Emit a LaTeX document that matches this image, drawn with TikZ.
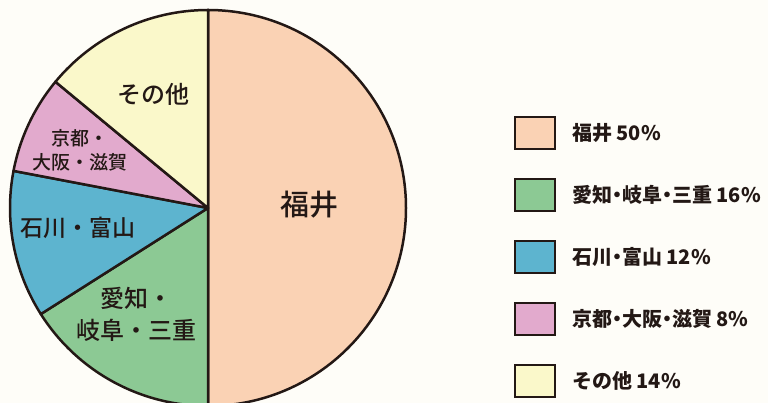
\documentclass[tikz,border=0pt]{standalone}
\usepackage{fontspec}
\newfontfamily\jpfont{Noto Sans CJK JP Medium}
\newfontfamily\jplegend[RawFeature=+halt]{Noto Sans CJK JP}
\definecolor{bgcream}{HTML}{FEFDF8}
\definecolor{inkdark}{HTML}{231815}
\definecolor{fukuicol}{HTML}{FAD2B4}
\definecolor{aichicol}{HTML}{8CC994}
\definecolor{ishikawacol}{HTML}{5DB4CF}
\definecolor{kyotocol}{HTML}{E2AACD}
\definecolor{othercol}{HTML}{FAF8CA}
\begin{document}
\begin{tikzpicture}[x=1pt,y=1pt,
		wedge/.style={draw=inkdark,line width=2.5pt,line join=round},
		pielabel/.style={text=inkdark,align=center,font=\jpfont},
		legbox/.style={draw=inkdark,line width=2.5pt,minimum width=40pt,minimum height=32pt,inner sep=0pt},
		legtext/.style={anchor=west,text=inkdark,inner sep=0pt,font=\jplegend\bfseries\fontsize{20}{24}\selectfont}]
		\fill[bgcream] (0,0) rectangle (768,403);
		\useasboundingbox (0,0) rectangle (768,403);
		\coordinate (O) at (208,195);
		% slices, clockwise from the top
		\filldraw[wedge,fill=fukuicol] (O) -- ++(90:198) arc[start angle=90,end angle=-90,radius=198] -- cycle;
		\filldraw[wedge,fill=aichicol] (O) -- ++(270:198) arc[start angle=270,end angle=212.4,radius=198] -- cycle;
		\filldraw[wedge,fill=ishikawacol] (O) -- ++(212.4:198) arc[start angle=212.4,end angle=169.2,radius=198] -- cycle;
		\filldraw[wedge,fill=kyotocol] (O) -- ++(169.2:198) arc[start angle=169.2,end angle=140.4,radius=198] -- cycle;
		\filldraw[wedge,fill=othercol] (O) -- ++(140.4:198) arc[start angle=140.4,end angle=90,radius=198] -- cycle;
		
		\node[pielabel,font=\jpfont\fontsize{29}{34}\selectfont] (fukui) at (309,198) {福井};
		\node[pielabel,font=\jpfont\fontsize{24}{32}\selectfont] (aichi) at (136,89) {愛知・\\岐阜・三重};
		\node[pielabel,font=\jpfont\fontsize{23}{28}\selectfont] (ishikawa) at (78,175) {石川・富山};
		\node[pielabel,font=\jpfont\fontsize{19}{24}\selectfont] (kyoto) at (80,253) {京都・\\大阪・滋賀};
		\node[pielabel,font=\jpfont\fontsize{24}{28}\selectfont] (other) at (153,309) {その他};
		
		% legend
		\node[legbox,fill=fukuicol] (lfukui) at (535,270) {};
		\node[legbox,fill=aichicol] (laichi) at (535,208) {};
		\node[legbox,fill=ishikawacol] (lishikawa) at (535,146) {};
		\node[legbox,fill=kyotocol] (lkyoto) at (535,84) {};
		\node[legbox,fill=othercol] (lother) at (535,22) {};
		\node[legtext] (tfukui) at (572,270) {福井 50\%};
		\node[legtext] (taichi) at (572,208) {愛知・岐阜・三重 16\%};
		\node[legtext] (tishikawa) at (572,146) {石川・富山 12\%};
		\node[legtext] (tkyoto) at (572,84) {京都・大阪・滋賀 8\%};
		\node[legtext] (tother) at (572,22) {その他 14\%};
		
		\end{tikzpicture}
\end{document}
